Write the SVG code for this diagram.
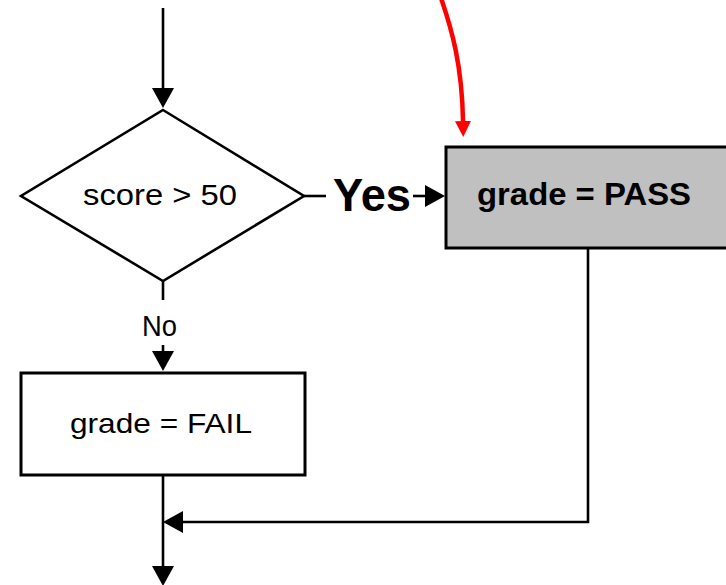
<svg xmlns="http://www.w3.org/2000/svg" width="726" height="585" viewBox="0 0 726 585">
<style>
.ln{fill:none;stroke:#000;stroke-width:2.6}
.box{stroke:#000;stroke-width:3}
.t{font-family:"Liberation Sans",Arial,sans-serif;fill:#000}
</style>
<defs>
<marker id="ah" markerUnits="userSpaceOnUse" viewBox="0 0 20 22" refX="0" refY="11" markerWidth="20" markerHeight="22" orient="auto">
<path d="M0,0 L20,11 L0,22 z" fill="#000"/>
</marker>
<marker id="ahr" markerUnits="userSpaceOnUse" viewBox="0 0 16 16" refX="0" refY="8" markerWidth="16" markerHeight="16" orient="auto">
<path d="M0,0 L16,8 L0,16 z" fill="#ff0000"/>
</marker>
</defs>
<rect width="726" height="585" fill="#fff"/>
<g id="connectors">
<line class="ln" x1="163" y1="8" x2="163" y2="88" marker-end="url(#ah)"/>
<line class="ln" x1="304" y1="196" x2="326" y2="196"/>
<line class="ln" x1="413" y1="196" x2="425" y2="196" marker-end="url(#ah)"/>
<line class="ln" x1="163" y1="281" x2="163" y2="300"/>
<line class="ln" x1="163" y1="345" x2="163" y2="351" marker-end="url(#ah)"/>
<line class="ln" x1="163" y1="475" x2="163" y2="566" marker-end="url(#ah)"/>
<polyline class="ln" points="588,248 588,522 183,522" marker-end="url(#ah)"/>
<path d="M441,-2 C452,30 462,65 463,121" fill="none" stroke="#ff0000" stroke-width="4.5" marker-end="url(#ahr)"/>
<text class="t" x="333" y="211" font-size="46" font-weight="bold" textLength="78" lengthAdjust="spacingAndGlyphs">Yes</text>
<text class="t" x="142" y="336" font-size="30" textLength="35" lengthAdjust="spacingAndGlyphs">No</text>
</g>
<g id="decision">
<polygon points="163,110 304,196 163,281 21,196" fill="#fff" stroke="#000" stroke-width="2.6"/>
<text class="t" x="83" y="205" font-size="29.5" textLength="154" lengthAdjust="spacingAndGlyphs">score &gt; 50</text>
</g>
<g id="pass">
<rect class="box" x="446" y="147" width="300" height="101" fill="#c0c0c0"/>
<text class="t" x="477" y="205" font-size="31" font-weight="bold" textLength="214" lengthAdjust="spacingAndGlyphs">grade = PASS</text>
</g>
<g id="fail">
<rect class="box" x="21" y="373" width="284" height="102" fill="#fff"/>
<text class="t" x="70" y="433" font-size="28" textLength="182" lengthAdjust="spacingAndGlyphs">grade = FAIL</text>
</g>
</svg>
